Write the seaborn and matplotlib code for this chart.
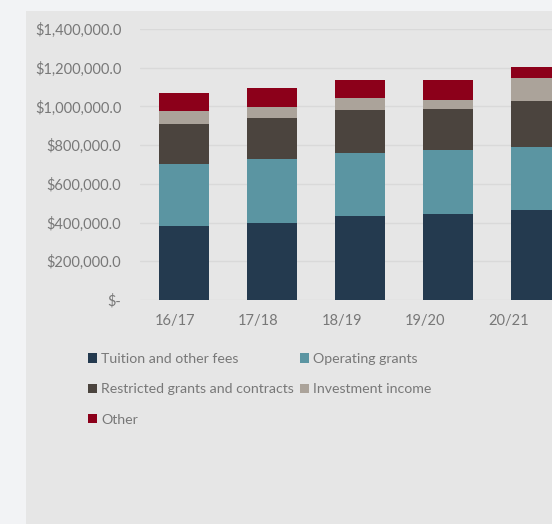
import matplotlib
matplotlib.use("Agg")
import matplotlib.pyplot as plt
from matplotlib.patches import Rectangle, Patch
from matplotlib.ticker import FuncFormatter
import numpy as np
import pandas as pd
import seaborn as sns

# Revenue by source, per fiscal year
years = ["16/17", "17/18", "18/19", "19/20", "20/21"]
tuition = [380000, 400000, 434000, 446000, 467000]
operating = [325000, 327000, 324000, 327000, 322000]
restricted = [205000, 214000, 225000, 215000, 241000]
investment = [67000, 55000, 59000, 45000, 119000]
other = [93000, 98000, 93000, 105000, 54000]

series_names = ["Tuition and other fees", "Operating grants",
                "Restricted grants and contracts", "Investment income", "Other"]
series_values = [tuition, operating, restricted, investment, other]
series_colors = ["#243a4f", "#5b95a2", "#4b443e", "#aba39a", "#8c001a"]
y_ticks = [0, 200000, 400000, 600000, 800000, 1000000, 1200000, 1400000]

sns.set_theme(style="white")
plt.rcParams["font.family"] = ["Lato", "DejaVu Sans"]
text_color = "#787878"

W, H = 552, 524
fig = plt.figure(figsize=(W / 100, H / 100), dpi=100)
fig.patch.set_facecolor("#f2f3f5")

# inner chart panel
fig.patches.append(Rectangle((26 / W, 0), 1.0, 1 - 11 / H, transform=fig.transFigure,
                             facecolor="#e6e6e6", edgecolor="none", zorder=-10))

ax = fig.add_axes([140 / W, (H - 300) / H, 440 / W, 271 / H])
ax.set_facecolor("none")
ax.set_zorder(2)

# stacked bars: draw cumulative totals from the top segment down
cum = np.cumsum(np.array(series_values), axis=0)
for i in range(len(series_names) - 1, -1, -1):
    d = pd.DataFrame({"year": years, "total": cum[i]})
    sns.barplot(data=d, x="year", y="total", color=series_colors[i], width=0.57,
                saturation=1, ax=ax, zorder=3, linewidth=0)

ax.set_xlim(-0.5, 4.5)
ax.set_ylim(0, 1400000)
ax.set_yticks(y_ticks)
ax.yaxis.set_major_formatter(FuncFormatter(
    lambda v, p: "$-" if v == 0 else f"${v:,.1f}"))
ax.grid(axis="y", color="#d9d9d9", linewidth=1, zorder=0)
ax.set_axisbelow(True)
for s in ax.spines.values():
    s.set_visible(False)
ax.set_xlabel("")
ax.set_ylabel("")

# category labels sit on a slightly tighter pitch than the bars
ax.set_xticks(np.arange(len(years)) * 0.947 - 0.1)
ax.set_xticklabels(years)
ax.tick_params(axis="x", length=0, pad=10, labelsize=10.5, labelcolor=text_color)
ax.tick_params(axis="y", length=0, pad=13.5, labelsize=10.5, labelcolor=text_color)

order = [0, 2, 4, 1, 3]
handles = [Patch(facecolor=series_colors[i], edgecolor="none", label=series_names[i])
           for i in order]
fig.legend(handles=handles, ncol=2, loc="upper left",
           bbox_to_anchor=(88 / W, 1 - 353 / H), frameon=False,
           borderpad=0, borderaxespad=0, handlelength=0.62, handleheight=0.62,
           handletextpad=0.3, columnspacing=0.45, labelspacing=1.3,
           prop={"size": 10.2}, labelcolor=text_color)

fig.savefig("out.png", dpi=100, facecolor=fig.get_facecolor())
